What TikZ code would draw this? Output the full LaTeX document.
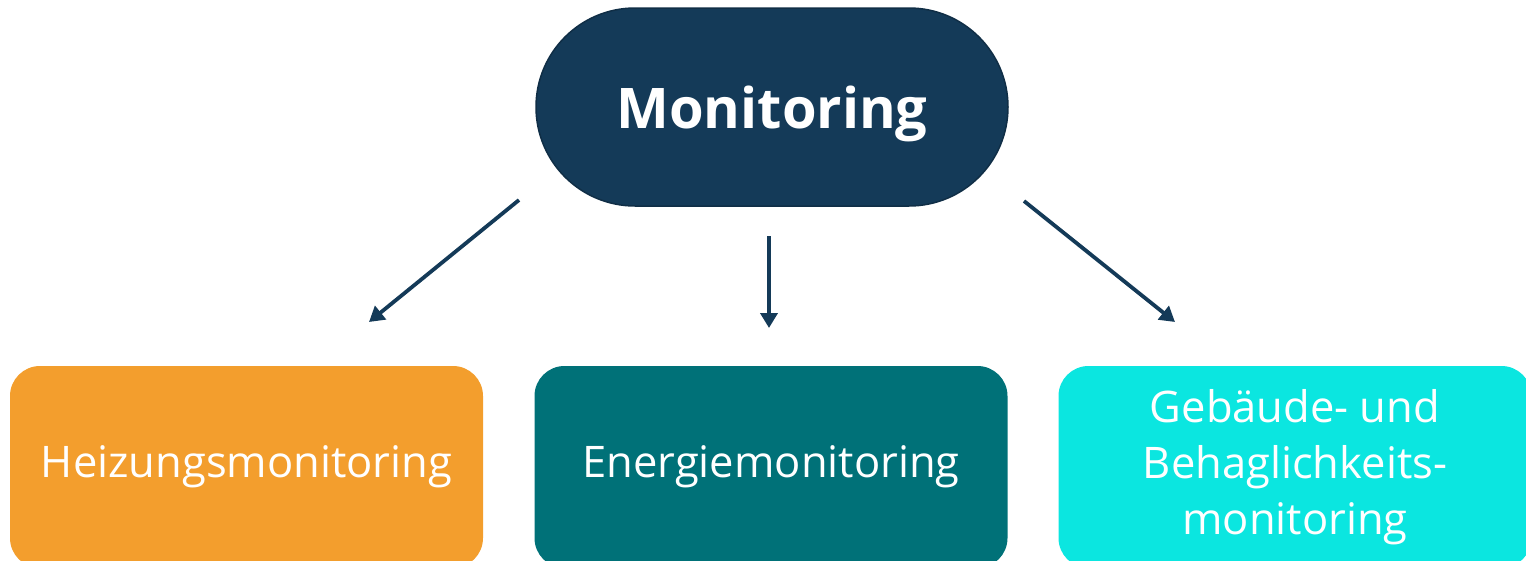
\documentclass[tikz,border=0pt]{standalone}
\usepackage{fontspec}
\setmainfont{Open Sans}
\usetikzlibrary{arrows.meta}

\definecolor{navy}{HTML}{143A58}
\definecolor{heiz}{HTML}{F39E2D}
\definecolor{energie}{HTML}{007178}
\definecolor{gebaeude}{HTML}{0BE6E0}

\begin{document}
\begin{tikzpicture}[
  x = 1pt, y = -1pt,
  hub/.style = {draw = navy!80!black, line width = 1.5pt, fill = navy,
                minimum width = 472pt, minimum height = 198pt,
                rounded corners = 99pt, text = white, text depth = 0pt,
                font = \fontsize{56}{66}\selectfont\bfseries},
  box/.style = {minimum width = 473pt, minimum height = 202pt,
                rounded corners = 30pt, text = white, align = center,
                font = \fontsize{43.5}{56}\selectfont},
  link/.style = {draw = navy, line width = 3.8pt,
                 -{Triangle[length = 15pt, width = 17pt]}},
  ]
  \useasboundingbox (0,0) rectangle (1526,560);
  \clip (0,0) rectangle (1526,560);

  \node[hub] (mon) at (772,107) {Monitoring};

  \node[box, fill = heiz] (heiz) at (246.5,467) {Heizungsmonitoring};
  \node[box, fill = energie] (ener) at (771,467) {Energiemonitoring};
  \node[box, fill = gebaeude] (geb) at (1295,467)
    {Gebäude- und\\Behaglichkeits-\\monitoring};

  \coordinate (a1) at (519,200);
  \coordinate (b1) at (369,322);
  \coordinate (a2) at (769,236);
  \coordinate (b2) at (769,328);
  \coordinate (a3) at (1024,201);
  \coordinate (b3) at (1175,322);

  \draw[link] (a1) -- (b1);
  \draw[link] (a2) -- (b2);
  \draw[link] (a3) -- (b3);
\end{tikzpicture}
\end{document}
